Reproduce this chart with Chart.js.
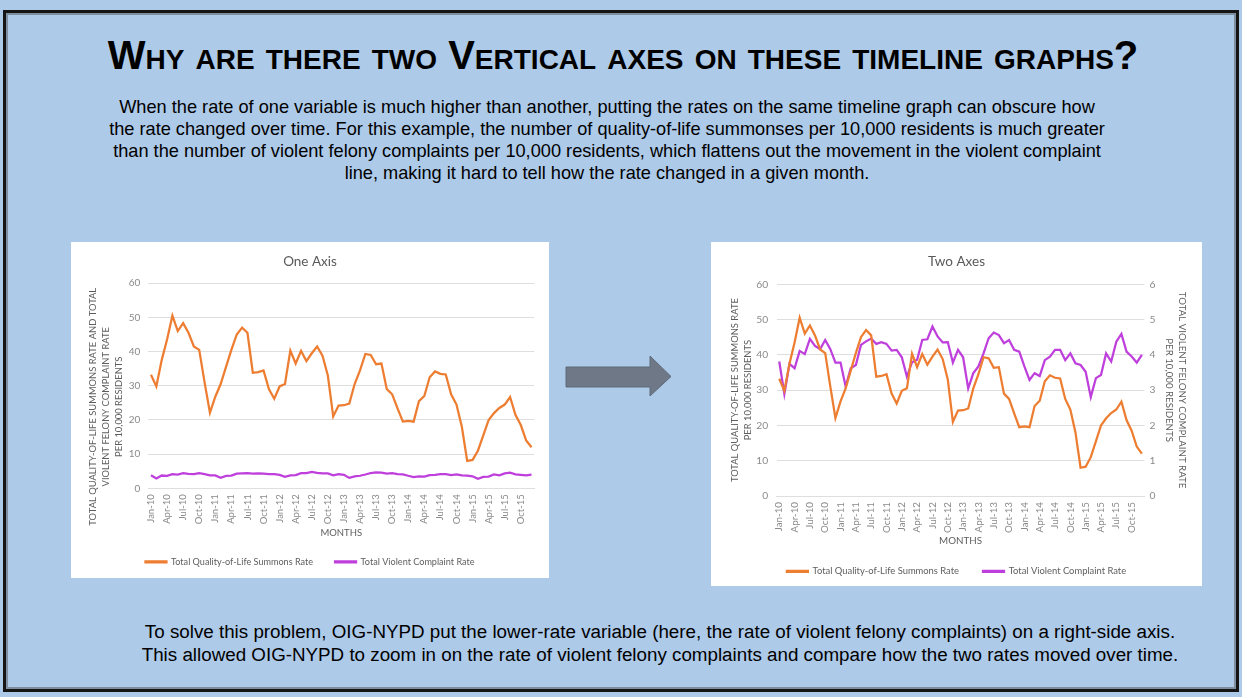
<!DOCTYPE html>
<html>
<head>
<meta charset="utf-8">
<script src="https://cdn.jsdelivr.net/npm/chart.js@4.4.0/dist/chart.umd.min.js"></script>
<style>
html,body{margin:0;padding:0;}
body{width:1242px;height:697px;background:#aecae9;position:relative;overflow:hidden;font-family:"Liberation Sans",Arial,sans-serif;}
#frame{position:absolute;left:3px;top:10px;width:1230px;height:676px;border:3px solid #151515;box-shadow:inset 0 0 0 2px #7f8fa0;}
#title{position:absolute;left:0;width:1246px;top:32px;text-align:center;font-weight:bold;font-size:40px;line-height:46px;font-variant:small-caps;color:#000;white-space:nowrap;}
#intro{position:absolute;left:0;width:1214px;top:96px;text-align:center;font-size:18.2px;line-height:22px;color:#000;white-space:nowrap;}
#outro{position:absolute;left:80px;width:1160px;top:620px;text-align:center;font-size:18.8px;line-height:23px;color:#000;white-space:nowrap;}
.box{position:absolute;background:#fff;}
#box1{left:71px;top:242px;width:478px;height:336px;}
#box2{left:711px;top:242px;width:491px;height:344px;}
#arrow{position:absolute;left:560px;top:350px;}
</style>
</head>
<body>
<div id="frame"></div>
<div id="title">Why are there two Vertical axes on these timeline graphs?</div>
<div id="intro">When the rate of one variable is much higher than another, putting the rates on the same timeline graph can obscure how<br>the rate changed over time. For this example, the number of quality-of-life summonses per 10,000 residents is much greater<br>than the number of violent felony complaints per 10,000 residents, which flattens out the movement in the violent complaint<br>line, making it hard to tell how the rate changed in a given month.</div>
<div class="box" id="box1"><canvas id="c1" width="478" height="336"></canvas></div>
<div class="box" id="box2"><canvas id="c2" width="491" height="344"></canvas></div>
<svg id="arrow" width="120" height="52" viewBox="560 350 120 52">
  <polygon points="566,367 650,367 650,356 671,376.5 650,396 650,387 566,387" fill="#6e7886" stroke="#5f6a78" stroke-width="1"/>
</svg>
<div id="outro">To solve this problem, OIG-NYPD put the lower-rate variable (here, the rate of violent felony complaints) on a right-side axis.<br>This allowed OIG-NYPD to zoom in on the rate of violent felony complaints and compare how the two rates moved over time.</div>
<script>
const months = [
 "Jan-10","Feb-10","Mar-10","Apr-10","May-10","Jun-10","Jul-10","Aug-10","Sep-10","Oct-10","Nov-10","Dec-10",
 "Jan-11","Feb-11","Mar-11","Apr-11","May-11","Jun-11","Jul-11","Aug-11","Sep-11","Oct-11","Nov-11","Dec-11",
 "Jan-12","Feb-12","Mar-12","Apr-12","May-12","Jun-12","Jul-12","Aug-12","Sep-12","Oct-12","Nov-12","Dec-12",
 "Jan-13","Feb-13","Mar-13","Apr-13","May-13","Jun-13","Jul-13","Aug-13","Sep-13","Oct-13","Nov-13","Dec-13",
 "Jan-14","Feb-14","Mar-14","Apr-14","May-14","Jun-14","Jul-14","Aug-14","Sep-14","Oct-14","Nov-14","Dec-14",
 "Jan-15","Feb-15","Mar-15","Apr-15","May-15","Jun-15","Jul-15","Aug-15","Sep-15","Oct-15","Nov-15","Dec-15"
];
const summonsRate = [
 33.2,29.8,37.5,43.5,50.5,46.0,48.3,45.5,41.5,40.5,31.0,22.1,
 26.8,30.5,35.5,40.5,45.0,47.0,45.5,33.8,34.0,34.5,29.0,26.2,
 29.8,30.5,40.3,36.5,40.2,37.2,39.5,41.5,38.8,33.0,21.0,24.2,
 24.3,24.8,30.5,34.5,39.3,39.0,36.3,36.5,29.0,27.5,23.4,19.5,
 19.7,19.5,25.5,27.0,32.5,34.2,33.5,33.3,27.5,24.5,18.0,8.0,
 8.3,11.0,15.5,20.0,22.0,23.5,24.5,26.7,21.5,18.5,14.0,12.0
];
const violentRate = [
 3.81,2.89,3.74,3.62,4.11,4.02,4.45,4.25,4.16,4.42,4.16,3.78,
 3.78,3.10,3.62,3.71,4.28,4.38,4.46,4.31,4.36,4.31,4.12,4.14,
 3.93,3.38,3.79,3.86,4.42,4.44,4.80,4.52,4.35,4.36,3.78,4.14,
 3.93,3.05,3.48,3.67,4.04,4.47,4.63,4.56,4.33,4.42,4.14,4.09,
 3.67,3.29,3.48,3.40,3.85,3.95,4.14,4.14,3.85,4.04,3.76,3.71,
 3.52,2.80,3.34,3.43,4.04,3.81,4.37,4.59,4.09,3.95,3.78,4.00
];
const seriesNames = ["Total Quality-of-Life Summons Rate","Total Violent Complaint Rate"];
const chartTitles = ["One Axis","Two Axes"];
const xAxisTitle = "MONTHS";
const oneAxisYTitle = ["TOTAL QUALITY-OF-LIFE SUMMONS RATE AND TOTAL","VIOLENT FELONY COMPLAINT RATE","PER 10,000 RESIDENTS"];
const leftYTitle = ["TOTAL QUALITY-OF-LIFE SUMMONS RATE","PER 10,000 RESIDENTS"];
const rightYTitle = ["TOTAL VIOLENT FELONY COMPLAINT RATE","PER 10,000 RESIDENTS"];

const ORANGE = "#ed7d31", PURPLE = "#bf3fdc";
const FONT = "Lato";
const GRID = "#dedede", TICK = "#8a8a8a", LABEL = "#5e5e5e";

// Excel nudges the long one-axis title below the plot centre; draw it as rotated text lines.
const shiftedYTitle = {
  id:'shiftedYTitle',
  afterDraw(chart, args, o){
    if(!o || !o.lines) return;
    const {ctx, chartArea} = chart;
    const cy = (chartArea.top + chartArea.bottom)/2 + o.shift;
    ctx.save();
    ctx.fillStyle = o.color; ctx.font = o.size + 'px ' + FONT;
    ctx.textAlign = 'center'; ctx.textBaseline = 'middle';
    o.lines.forEach((t,i)=>{
      ctx.save(); ctx.translate(o.x0 + i*o.lh, cy); ctx.rotate(-Math.PI/2); ctx.fillText(t,0,0); ctx.restore();
    });
    ctx.restore();
  }
};

function xScale(fs, h, tb){
  return {
    offset:true,
    grid:{display:false,drawTicks:false},
    border:{display:true,color:GRID,width:1},
    ticks:{autoSkip:false,minRotation:90,maxRotation:90,color:TICK,padding:6,font:{family:FONT,size:fs},
      callback:(v,i)=> i%3===0 ? months[i] : ''},
    title:{display:true,text:xAxisTitle,color:LABEL,font:{family:FONT,size:fs,lineHeight:1.2},padding:{top:0,bottom:tb}},
    afterFit:s=>{s.height=h;}
  };
}
function legendOpts(fs, pad){
  return {position:'bottom',labels:{boxWidth:21,boxHeight:1,color:LABEL,padding:pad,font:{family:FONT,size:fs}}};
}
const common = {responsive:false,animation:false,devicePixelRatio:1,events:[]};

new Chart(document.getElementById('c1'),{
  type:'line',
  data:{labels:months,datasets:[
    {label:seriesNames[0],data:summonsRate,borderColor:ORANGE,backgroundColor:ORANGE,borderWidth:2.25,pointRadius:0,tension:0},
    {label:seriesNames[1],data:violentRate,borderColor:PURPLE,backgroundColor:PURPLE,borderWidth:2.25,pointRadius:0,tension:0}
  ]},
  plugins:[shiftedYTitle],
  options:Object.assign({},common,{
    layout:{padding:{left:0,right:0,top:0,bottom:1.5}},
    plugins:{
      title:{display:true,text:chartTitles[0],color:"#595959",font:{family:FONT,size:13.5,weight:'normal'},padding:{top:12,bottom:13}},
      legend:legendOpts(9.1,22),
      tooltip:{enabled:false},
      shiftedYTitle:{lines:oneAxisYTitle,x0:21.7,lh:13.3,shift:21,size:9.4,color:LABEL}
    },
    scales:{
      x:xScale(9.5,47.1,-3.4),
      y:{min:0,max:60,
        ticks:{stepSize:10,color:TICK,padding:8,font:{family:FONT,size:10}},
        grid:{color:GRID,drawTicks:false},
        border:{display:false},
        title:{display:false},
        afterFit:s=>{s.width=77.3;}
      },
      rightGap:{type:'linear',position:'right',display:true,
        ticks:{display:false},grid:{display:false,drawTicks:false},border:{display:false},
        afterFit:s=>{s.width=12.3;}
      }
    }
  })
});

new Chart(document.getElementById('c2'),{
  type:'line',
  data:{labels:months,datasets:[
    {label:seriesNames[0],data:summonsRate,yAxisID:'y',borderColor:ORANGE,backgroundColor:ORANGE,borderWidth:2.25,pointRadius:0,tension:0},
    {label:seriesNames[1],data:violentRate,yAxisID:'y2',borderColor:PURPLE,backgroundColor:PURPLE,borderWidth:2.25,pointRadius:0,tension:0}
  ]},
  options:Object.assign({},common,{
    layout:{padding:{left:0,right:0,top:0,bottom:0}},
    plugins:{
      title:{display:true,text:chartTitles[1],color:"#595959",font:{family:FONT,size:13.5,weight:'normal'},padding:{top:12,bottom:14}},
      legend:legendOpts(9.4,24),
      tooltip:{enabled:false}
    },
    scales:{
      x:xScale(9.8,46.6,-4.3),
      y:{position:'left',min:0,max:60,
        ticks:{stepSize:10,color:TICK,padding:8.5,font:{family:FONT,size:10.3}},
        grid:{color:GRID,drawTicks:false},
        border:{display:false},
        title:{display:true,text:leftYTitle,color:LABEL,font:{family:FONT,size:9.4,lineHeight:1.35},padding:{top:17.6,bottom:0}},
        afterFit:s=>{s.width=65.7;}
      },
      y2:{position:'right',min:0,max:6,
        ticks:{stepSize:1,color:TICK,padding:5,font:{family:FONT,size:10.3}},
        grid:{drawOnChartArea:false,drawTicks:false},
        border:{display:false},
        title:{display:true,text:rightYTitle,color:LABEL,font:{family:FONT,size:9.7,lineHeight:1.3},padding:{top:14,bottom:0}},
        afterFit:s=>{s.width=57.6;}
      }
    }
  })
});
</script>
</body>
</html>
